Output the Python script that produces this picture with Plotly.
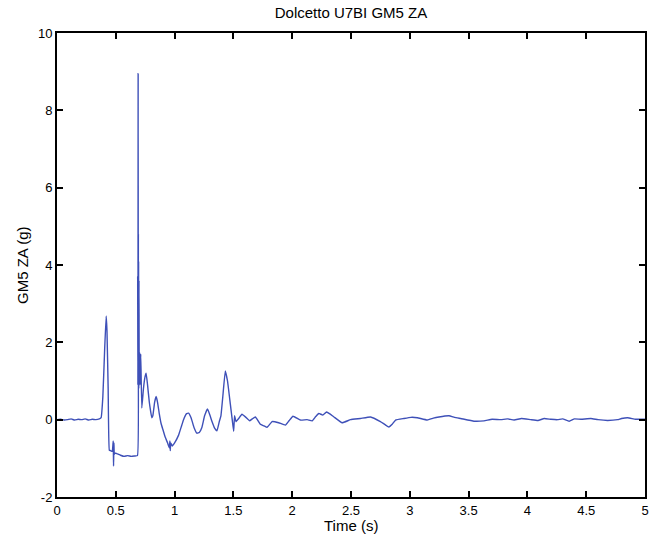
import plotly.graph_objects as go

time_s = [
    0.000, 0.030, 0.060, 0.090, 0.120, 0.150, 0.180, 0.210, 0.240, 0.270, 0.300, 0.330, 0.360, 0.375,
    0.390, 0.405, 0.418, 0.425, 0.435, 0.445, 0.455, 0.470, 0.478, 0.481, 0.484, 0.487, 0.492,
    0.510, 0.540, 0.570, 0.600, 0.630, 0.660, 0.684,
    0.686, 0.688, 0.689, 0.690, 0.691, 0.692, 0.693, 0.694, 0.695, 0.697, 0.699, 0.701, 0.705,
    0.712, 0.721, 0.735, 0.748, 0.758, 0.770, 0.785, 0.806, 0.815, 0.830, 0.843, 0.855, 0.870,
    0.885, 0.900, 0.920, 0.940, 0.955, 0.960, 0.963, 0.967, 0.980, 1.000, 1.034, 1.055, 1.076,
    1.100, 1.119, 1.140, 1.165, 1.190, 1.210, 1.232, 1.255, 1.280, 1.300, 1.318, 1.340, 1.360,
    1.380, 1.394, 1.410, 1.431, 1.450, 1.474, 1.490, 1.502, 1.510, 1.522, 1.545, 1.573, 1.610,
    1.638, 1.660, 1.687, 1.729, 1.760, 1.786, 1.829, 1.885, 1.942, 1.975, 2.007, 2.070, 2.127,
    2.170, 2.200, 2.226, 2.260, 2.292, 2.320, 2.355, 2.425, 2.496, 2.580, 2.666, 2.750, 2.790,
    2.822, 2.850, 2.879, 2.950, 3.010, 3.064, 3.149, 3.200, 3.248, 3.333, 3.380, 3.433, 3.546,
    3.631, 3.700, 3.774, 3.830, 3.887, 3.950, 4.029, 4.090, 4.143, 4.200, 4.256, 4.300, 4.355,
    4.400, 4.455, 4.540, 4.600, 4.682, 4.767, 4.800, 4.853, 4.920, 4.995, 5.000,
]

accel_g = [
    0.00, 0.01, -0.01, 0.00, 0.02, -0.01, 0.01, 0.00, 0.02, -0.01, 0.01, 0.00, 0.02, 0.05,
    0.60, 1.80, 2.68, 2.30, 0.80, -0.79, -0.80, -0.82, -0.55, -1.20, -0.60, -0.90, -0.86,
    -0.88, -0.92, -0.95, -0.93, -0.95, -0.94, -0.93,
    3.70, 0.90, 4.00, 8.95, 1.20, 4.80, 0.90, 4.10, 0.80, 3.60, 1.20, 1.75, 0.90,
    1.70, 0.30, 0.80, 1.10, 1.20, 0.90, 0.45, 0.05, 0.10, 0.45, 0.60, 0.45, 0.15,
    -0.10, -0.25, -0.45, -0.60, -0.73, -0.55, -0.80, -0.60, -0.68, -0.60, -0.40, -0.20, 0.00,
    0.15, 0.17, 0.05, -0.20, -0.35, -0.33, -0.20, 0.10, 0.28, 0.12, -0.05, -0.22, -0.29,
    -0.05, 0.10, 0.60, 1.26, 1.00, 0.40, 0.00, -0.30, 0.10, -0.05, 0.03, 0.14, 0.05,
    -0.03, 0.02, 0.07, -0.12, -0.16, -0.20, -0.05, -0.08, -0.14, -0.02, 0.09, -0.01, 0.00,
    -0.03, 0.08, 0.16, 0.12, 0.20, 0.15, 0.07, -0.08, 0.00, 0.03, 0.07, -0.05, -0.13,
    -0.19, -0.12, -0.01, 0.03, 0.06, 0.05, -0.01, 0.04, 0.07, 0.10, 0.06, 0.03, -0.04,
    -0.03, 0.01, 0.00, 0.02, -0.01, 0.03, 0.00, -0.02, 0.03, 0.01, 0.00, 0.02, -0.04,
    0.02, 0.01, 0.03, 0.00, -0.02, 0.00, 0.03, 0.05, 0.01, 0.01, 0.01,
]

x_ticks = [0, 0.5, 1, 1.5, 2, 2.5, 3, 3.5, 4, 4.5, 5]
x_tick_text = ["0", "0.5", "1", "1.5", "2", "2.5", "3", "3.5", "4", "4.5", "5"]
y_ticks = [-2, 0, 2, 4, 6, 8, 10]
y_tick_text = ["-2", "0", "2", "4", "6", "8", "10"]

fig = go.Figure()
fig.add_trace(go.Scatter(
    x=time_s, y=accel_g, mode="lines",
    line=dict(color="#3e50b8", width=1.4, shape="spline", smoothing=0.3),
    showlegend=False, hoverinfo="skip",
))

font_family = "Liberation Sans, Arial, Helvetica, sans-serif"
axis_common = dict(
    showgrid=False, zeroline=False, showline=True, linecolor="black", linewidth=2,
    mirror="ticks", ticks="inside", ticklen=6, tickwidth=1.5, tickcolor="black",
    tickfont=dict(family=font_family, size=13, color="black"),
    automargin=False,
)

W, H = 659, 538
ML, MR, MT, MB = 57, 14, 33, 41
plot_w = W - ML - MR
plot_h = H - MT - MB

fig.update_layout(
    width=W, height=H,
    margin=dict(l=ML, r=MR, t=MT, b=MB, autoexpand=False),
    paper_bgcolor="white", plot_bgcolor="white",
    title=dict(text="Dolcetto U7BI GM5 ZA", x=0.5, xanchor="center", xref="paper",
               y=1 - 13 / H, yanchor="middle",
               font=dict(family=font_family, size=15, color="black")),
    xaxis=dict(range=[0, 5], tickvals=x_ticks, ticktext=x_tick_text, **axis_common),
    yaxis=dict(range=[-2, 10], tickvals=y_ticks, ticktext=y_tick_text, **axis_common),
    annotations=[
        dict(text="Time (s)", xref="paper", yref="paper", x=0.5,
             y=-(525 - (H - MB)) / plot_h, xanchor="center", yanchor="middle",
             showarrow=False, font=dict(family=font_family, size=15, color="black")),
        dict(text="GM5 ZA (g)", xref="paper", yref="paper", x=(22 - ML) / plot_w,
             y=0.5, xanchor="center", yanchor="middle", textangle=-90,
             showarrow=False, font=dict(family=font_family, size=15, color="black")),
    ],
)

fig.write_html("out.html")
